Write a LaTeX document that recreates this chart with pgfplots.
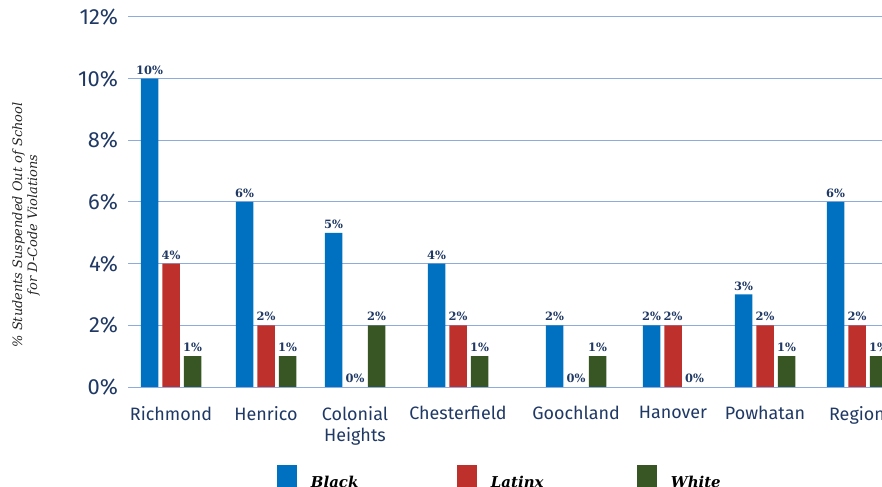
\documentclass[border=0pt]{standalone}
\usepackage{fontspec}
\usepackage{pgfplots}
\pgfplotsset{compat=1.18}
\setmainfont{Fira Sans}
\newfontfamily\djserif{DejaVu Serif}
\definecolor{cblue}{HTML}{0070C0}
\definecolor{cred}{HTML}{BE302C}
\definecolor{cgreen}{HTML}{375623}
\definecolor{navy}{HTML}{1F3864}
\definecolor{gridc}{HTML}{8FAADC}
\begin{document}
\begin{tikzpicture}
\useasboundingbox (0,0) rectangle (882bp,487bp);
\clip (0,0) rectangle (882bp,487bp);
\begin{axis}[
  at={(128bp,100bp)}, anchor=south west,
  scale only axis, width=754bp, height=370bp,
  xmin=128, xmax=882, ymin=0, ymax=12,
  ybar, bar width=17.5bp,
  axis line style={draw=none},
  major tick length=0pt,
  ymajorgrids, grid style={gridc, line width=1bp},
  ytick={0,2,4,6,8,10,12},
  yticklabels={0\%,2\%,4\%,6\%,8\%,10\%,12\%},
  yticklabel style={font=\fontsize{22}{24}\selectfont, text=navy, xshift=-6.5bp},
  xtick={171,266,355,458,576,673,765,857},
  xticklabels={Richmond,Henrico,{Colonial\\Heights},Chesterfield,Goochland,Hanover,Powhatan,Region},
  xticklabel style={font=\fontsize{18}{21.5}\selectfont, text=navy, align=center, anchor=north, yshift=-16bp},
  every axis y label/.style={at={(axis description cs:-0.1353,0.438)}, anchor=center, rotate=90, align=center, font=\djserif\itshape\fontsize{13}{15}\selectfont, text=black!85},
  ylabel={\% Students Suspended Out of School\\for D-Code Violations},
  /pgf/number format/assume math mode=true,
  /pgf/number format/fixed, /pgf/number format/precision=0,
  nodes near coords={\pgfmathprintnumber{\pgfplotspointmeta}\%},
  every node near coord/.append style={font=\djserif\bfseries\fontsize{11.5}{13}\selectfont, text=navy, anchor=south, inner sep=0pt, yshift=4bp},
  legend columns=3,
  legend style={at={(axis description cs:0.1976,-0.2108)}, anchor=north west, draw=none, fill=none, inner sep=0pt, outer sep=0pt, font=\djserif\bfseries\itshape\fontsize{15}{18}\selectfont, nodes={inner sep=0pt}, /tikz/every odd column/.append style={column sep=14bp}},
  legend cell align=left,
  legend image code/.code={\fill[#1] (0bp,-4bp) rectangle (20bp,18bp);},
]
\addplot[fill=cblue, draw=none, bar shift=-21.5bp] coordinates {(171,10) (266,6) (355,5) (458,4) (576,2) (673,2) (765,3) (857,6)};
\addplot[fill=cred, draw=none, bar shift=0bp] coordinates {(171,4) (266,2) (355,0) (458,2) (576,0) (673,2) (765,2) (857,2)};
\addplot[fill=cgreen, draw=none, bar shift=21.5bp] coordinates {(171,1) (266,1) (355,2) (458,1) (576,1) (673,0) (765,1) (857,1)};
\legend{\makebox[146bp][l]{Black},\makebox[146bp][l]{Latinx},\makebox[146bp][l]{White}}
\end{axis}
\end{tikzpicture}
\end{document}
